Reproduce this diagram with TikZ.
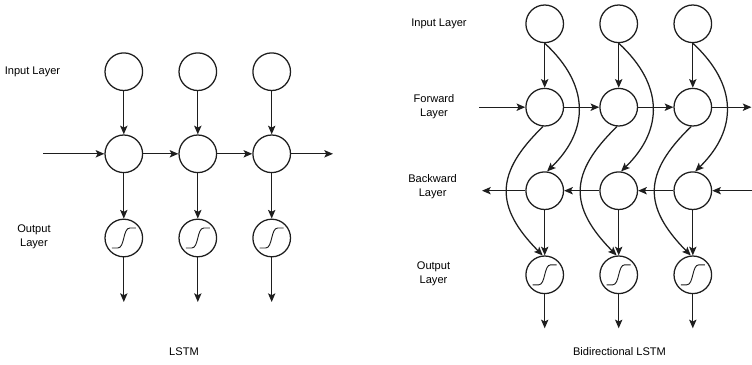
\documentclass[tikz,border=0pt]{standalone}
\usepackage{fontspec}
\setmainfont{Liberation Sans}
\usetikzlibrary{arrows.meta,calc}
\definecolor{linegray}{HTML}{1E1E1E}

\begin{document}
\begin{tikzpicture}[x=0.75pt,y=-0.75pt,
  unit/.style={circle,draw=linegray,line width=0.95pt,minimum size=28.2pt,inner sep=0pt},
  link/.style={draw=linegray,line width=0.95pt,-{Stealth[length=6.5pt,width=5.5pt,inset=1.4pt]}},
  lbl/.style={font=\fontsize{8.3pt}{10.5pt}\selectfont,align=center,text=black},
  sigmoid/.style={path picture={
    \draw[line width=0.7pt,draw=linegray]
      ([shift={(-12,10)}]path picture bounding box.center)
      -- ([shift={(-6,10)}]path picture bounding box.center)
      .. controls ([shift={(1,10)}]path picture bounding box.center)
      and ([shift={(-1,-10)}]path picture bounding box.center)
      .. ([shift={(6,-10)}]path picture bounding box.center)
      -- ([shift={(12,-10)}]path picture bounding box.center);}}]

\useasboundingbox (0,0) rectangle (752,364);

% ---------- plain LSTM ----------
\foreach \i/\x in {1/123.8,2/197.8,3/271.7} {
  \node[unit] (Li\i) at (\x,71.7) {};
  \node[unit] (Lh\i) at (\x,153.8) {};
  \node[unit,sigmoid] (Lo\i) at (\x,238) {};
  \coordinate (Ld\i) at (\x,302);
  \draw[link] (Li\i) -- (Lh\i);
  \draw[link] (Lh\i) -- (Lo\i);
  \draw[link] (Lo\i) -- (Ld\i);
}
\coordinate (Lin) at (43,153.8);
\coordinate (Lout) at (333,153.8);
\draw[link] (Lin) -- (Lh1);
\draw[link] (Lh1) -- (Lh2);
\draw[link] (Lh2) -- (Lh3);
\draw[link] (Lh3) -- (Lout);

\node[lbl] (tLin) at (32.5,71.7) {Input Layer};
\node[lbl] (tLout) at (34,237) {Output\\Layer};
\node[lbl] (tL) at (184,352) {LSTM};

% ---------- bidirectional LSTM ----------
\foreach \i/\x in {1/544.7,2/618.7,3/692.8} {
  \node[unit] (Ri\i) at (\x,23.8) {};
  \node[unit] (Rf\i) at (\x,107.2) {};
  \node[unit] (Rb\i) at (\x,190.7) {};
  \node[unit,sigmoid] (Ro\i) at (\x,274.8) {};
  \coordinate (Rd\i) at (\x,328.3);
  \draw[link] (Ri\i) -- (Rf\i);
  \draw[link] (Rb\i) -- (Ro\i);
  \draw[link] (Ro\i) -- (Rd\i);
  % input feeds the backward cell
  \draw[link] (Ri\i.south) .. controls ([shift={(45,61)}]Ri\i.center)
    and ([shift={(45,-61)}]Rb\i.center) .. (Rb\i.83);
  % forward cell feeds the output
  \draw[link] (Rf\i.265) .. controls ([shift={(-50,66)}]Rf\i.center)
    and ([shift={(-50,-68)}]Ro\i.center) .. (Ro\i.96);
}
\coordinate (Rfin) at (479,107.2);
\coordinate (Rfout) at (751.5,107.2);
\coordinate (Rbin) at (752,190.7);
\coordinate (Rbout) at (482,190.7);
\draw[link] (Rfin) -- (Rf1);
\draw[link] (Rf1) -- (Rf2);
\draw[link] (Rf2) -- (Rf3);
\draw[link] (Rf3) -- (Rfout);
\draw[link] (Rbin) -- (Rb3);
\draw[link] (Rb3) -- (Rb2);
\draw[link] (Rb2) -- (Rb1);
\draw[link] (Rb1) -- (Rbout);

\node[lbl] (tRin) at (439,24) {Input Layer};
\node[lbl] (tRf) at (434,107) {Forward\\Layer};
\node[lbl] (tRb) at (432.6,186.5) {Backward\\Layer};
\node[lbl] (tRo) at (433.5,274) {Output\\Layer};
\node[lbl] (tR) at (619.5,352) {Bidirectional LSTM};
\end{tikzpicture}
\end{document}
